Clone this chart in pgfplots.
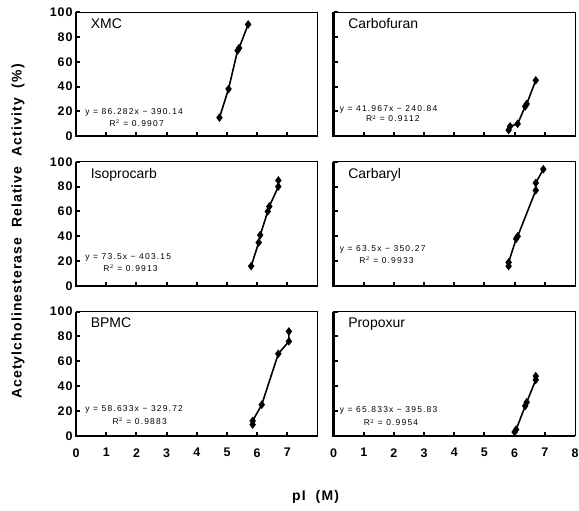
\documentclass[border=0pt]{standalone}
\usepackage{fontspec}
\setmainfont{Liberation Sans}
\newfontfamily\wide[LetterSpace=8]{Liberation Sans}
\newfontfamily\eqf[LetterSpace=14]{Liberation Sans}
\usepackage{pgfplots}
\pgfplotsset{compat=1.18}
\usepgfplotslibrary{groupplots}

\pgfplotsset{
  panel/.style={
    scale only axis, width=241bp, height=124bp,
    xmin=0, xmax=8, ymin=0, ymax=100,
    xtick={0,...,7}, ytick={0,20,...,100},
    tick pos=left, tick align=inside,
    major tick length=4bp,
    every tick/.style={black, line width=2bp},
    axis line style={line width=0.6bp},
    tick label style={font=\wide\bfseries\fontsize{12.5}{12.5}\selectfont},
    /pgf/number format/assume math mode=true,
    xticklabel style={yshift=-9bp},
    clip=false,
    extra description/.code={\draw[line width=2.4bp] (0,1)--(0,0)--(1,0);},
  },
  ser/.style={black, line width=1.6bp, mark=diamond*, mark size=3bp,
    mark options={solid, fill=black}},
}
\newcommand{\ttl}[1]{\node[anchor=north west, inner sep=0pt,
  font=\fontsize{14}{14}\selectfont] at (rel axis cs:0.06,0.95) {#1};}
\newcommand{\fiteq}[6]{%
  \node[anchor=base west, inner sep=0pt, font=\eqf\fontsize{8.5}{8.5}\selectfont]
    at (axis cs:#1,#2) {#3};
  \node[anchor=base west, inner sep=0pt, font=\eqf\fontsize{8.5}{8.5}\selectfont]
    at (axis cs:#4,#5) {#6};}

\begin{document}
\begin{tikzpicture}
\begin{groupplot}[
  group style={group size=2 by 3, horizontal sep=16bp, vertical sep=25.5bp,
    xticklabels at=edge bottom, yticklabels at=edge left},
  panel]

\nextgroupplot
\addplot[ser] coordinates {(4.75,15) (5.05,38) (5.35,69) (5.4,71) (5.7,90)};
\ttl{XMC}
\fiteq{0.3}{17.7}{y = 86.282x − 390.14}{1.1}{8.1}{R$^2$ = 0.9907}

\nextgroupplot
\addplot[ser] coordinates {(5.8,5) (5.85,8) (6.1,10) (6.35,24) (6.4,26) (6.7,45)};
\ttl{Carbofuran}
\fiteq{0.2}{20}{y = 41.967x − 240.84}{1.07}{11.5}{R$^2$ = 0.9112}

\nextgroupplot
\addplot[ser] coordinates {(5.8,16) (6.05,35) (6.1,41) (6.35,60) (6.4,64) (6.7,80) (6.7,85)};
\ttl{Isoprocarb}
\fiteq{0.3}{21}{y = 73.5x − 403.15}{0.9}{12}{R$^2$ = 0.9913}

\nextgroupplot
\addplot[ser] coordinates {(5.8,16) (5.8,19) (6.05,38) (6.1,40) (6.7,77) (6.7,83) (6.95,94)};
\ttl{Carbaryl}
\fiteq{0.2}{27.5}{y = 63.5x − 350.27}{0.85}{18.5}{R$^2$ = 0.9933}

\nextgroupplot
\addplot[ser] coordinates {(5.85,9) (5.85,12) (6.15,25) (6.7,66) (7.05,76) (7.05,84)};
\ttl{BPMC}
\fiteq{0.3}{19.6}{y = 58.633x − 329.72}{1.2}{9.4}{R$^2$ = 0.9883}

\nextgroupplot[extra x ticks={8}, extra x tick style={major tick length=0pt}]
\addplot[ser] coordinates {(6.0,3) (6.05,5) (6.35,24) (6.4,27) (6.7,45) (6.7,48)};
\ttl{Propoxur}
\fiteq{0.2}{18.8}{y = 65.833x − 395.83}{1.0}{8}{R$^2$ = 0.9954}
\end{groupplot}

\pgfresetboundingbox
\path[use as bounding box] ([shift={(-76bp,12bp)}]group c1r1.north west)
  rectangle ([shift={(4bp,-75bp)}]group c2r3.south east);

\node[rotate=90, font=\wide\bfseries\fontsize{14}{14}\selectfont]
  at ([shift={(-58bp,-219bp)}]group c1r1.north west)
  {Acetylcholinesterase\ \ Relative\ \ Activity\ \ (\%)};
\node[font=\wide\bfseries\fontsize{14}{14}\selectfont]
  at ([shift={(239bp,-61bp)}]group c1r3.south west) {pI\ \ (M)};
\end{tikzpicture}
\end{document}
